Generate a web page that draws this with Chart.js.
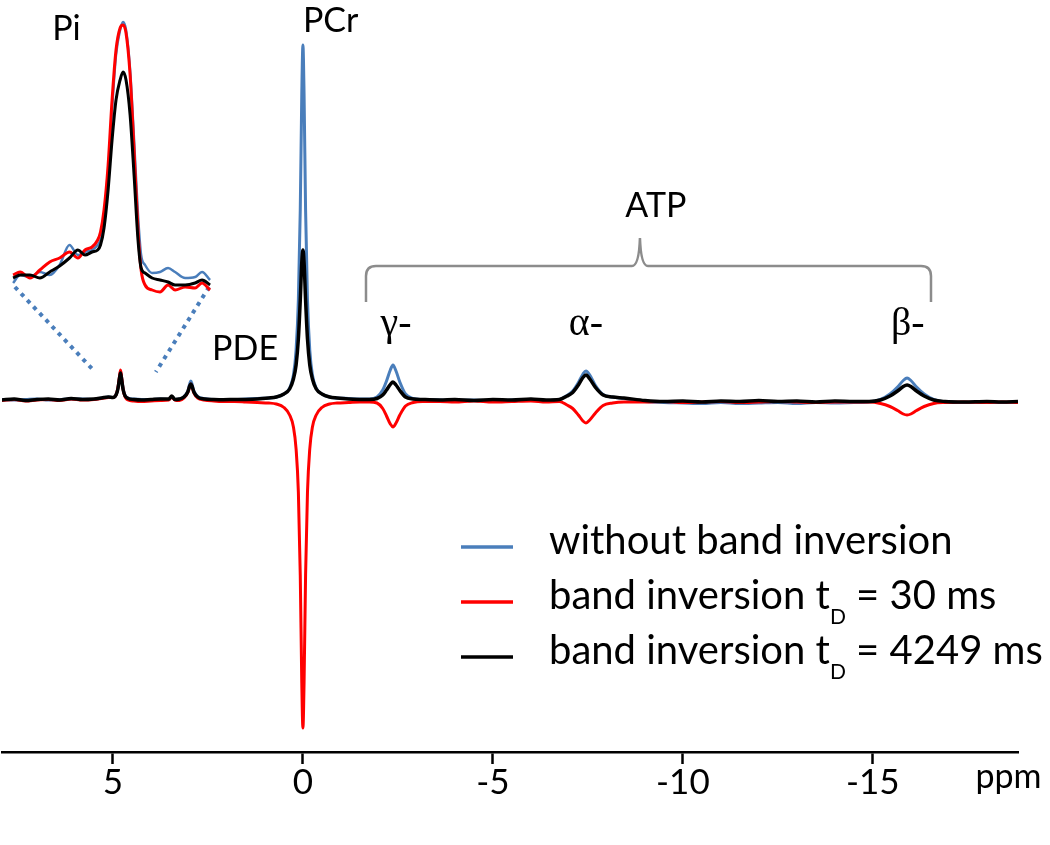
<!DOCTYPE html>
<html>
<head>
<meta charset="utf-8">
<script src="https://cdn.jsdelivr.net/npm/chart.js@4.4.1/dist/chart.umd.min.js"></script>
<style>
  body { margin: 0; background: #fff; }
  #wrap { position: relative; width: 1050px; height: 845px; }
  #main { position: absolute; left: 0; top: 0; }
  #inset { position: absolute; left: 8px; top: 0; }
</style>
</head>
<body>
<div id="wrap">
  <canvas id="main" width="1050" height="845"></canvas>
  <canvas id="inset" width="207" height="300"></canvas>
</div>
<script>
// chemical shift grid (ppm) shared by the three spectra
const mainPpm = [
  7.92, 7.6, 7.3, 7.0, 6.7, 6.4, 6.1, 5.8, 5.5, 5.3, 5.12,
  5.0, 4.92, 4.87, 4.83, 4.8, 4.77, 4.73, 4.68, 4.6, 4.45, 4.25,
  4.0, 3.75, 3.53, 3.45, 3.37, 3.25, 3.13, 3.03, 2.98, 2.95, 2.92, 2.87, 2.77, 2.6, 2.35,
  2.1, 1.8, 1.5, 1.2, 0.9, 0.7, 0.5, 0.35, 0.25, 0.18, 0.12, 0.07, 0.03, 0,
  -0.03, -0.07, -0.12, -0.18, -0.25, -0.35, -0.5, -0.7, -0.9, -1.2, -1.5, -1.75,
  -1.95, -2.1, -2.2, -2.3, -2.37, -2.45, -2.55, -2.7, -2.9, -3.15,
  -3.6, -4.0, -4.5, -5.0, -5.5, -6.0, -6.4, -6.75,
  -6.95, -7.1, -7.25, -7.37, -7.45, -7.55, -7.7, -7.9, -8.15, -8.45,
  -9.0, -9.5, -10.0, -10.5, -11.0, -11.5, -12.0, -12.5, -13.0, -13.5, -14.0, -14.5,
  -14.9, -15.2, -15.45, -15.65, -15.8, -15.9, -16.0, -16.15, -16.35, -16.6,
  -16.9, -17.4, -18.0, -18.4, -18.82
];

const blueMain = [
  0.5, 0, 0.5, 1, 0, 0.5, 1, 1, 0.5, 2, 3,
  2.5, 5, 11.5, 22, 29, 22, 11, 4.5, 2, 1, 0.5,
  0.5, 1, 0.5, 3, 0.5, 1, 3.5, 9, 16, 19, 16, 9, 3.5, 1.5, 0.5,
  0.5, 0.5, 1, 1.5, 2, 3, 6, 12, 25, 50, 100, 190, 306, 355,
  306, 190, 100, 50, 25, 12, 6, 3, 2, 1.5, 1, 1,
  3, 10, 19, 30, 35, 29, 18, 6, 1.5, 0.5,
  0, -0.5, 0, -1, 0, 0.5, -0.5, 0.5,
  4.5, 9, 17.5, 26, 29, 25, 14.5, 5.5, 3, 1.5,
  -1.5, -2.5, -3, -3.5, -2.5, -3.5, -3, -2.5, -3.5, -2.5, -3, -2.5,
  -2, 0.5, 6, 13, 19.5, 22, 19.5, 13, 6, 0.5,
  -2, -2.5, -2, -2.5, -2
];

const redMain = [
  -0.5, 0.5, -1, 0, 0.5, -0.5, 1, 0, 0.5, 1.5, 2.5,
  2.5, 5, 12, 23, 30, 22, 10, 3, 0, -1, -1.5,
  -1, -0.5, 0, 3, 0, -0.5, 2, 7.5, 13.5, 16, 13.5, 7, 2, 0, -1,
  -1.5, -1.5, -2, -2.5, -3, -4, -7.5, -15, -27, -49, -92, -175, -283, -328,
  -283, -175, -92, -49, -27, -15, -7.5, -4, -3, -2.5, -2, -2,
  -3, -8.5, -16, -24, -27, -23, -15, -6, -2.5, -1.5,
  -1.5, -2, -1, -2, -1.5, -1, -2, -1.5,
  -5, -8.5, -15, -21, -23, -20, -13, -5.5, -3, -2,
  -2, -1.5, -2.5, -2, -1.5, -2.5, -2, -1.5, -2, -2.5, -2, -2,
  -2, -3.5, -6.5, -10.5, -14, -15, -14, -10.5, -6.5, -3.5,
  -2.5, -2, -2.5, -2, -2.5
];

const blackMain = [
  0, 1, -0.5, 0.5, 1, 0, 1.5, 0.5, 1, 2, 3,
  2.5, 5, 11, 21, 27, 20, 10, 4, 1.5, 0.5, 0,
  0.5, 1, 1, 4, 0.5, 1, 3, 8, 14, 16, 14, 8, 3, 1, 0.5,
  0.3, 0.5, 0.6, 1, 2, 3, 6, 11, 21, 35, 61, 100, 138, 150,
  138, 100, 61, 35, 21, 11, 6, 3, 2, 1, 0.6, 0.5,
  1.5, 5, 10, 15.5, 18, 15, 9.5, 3, 1, 0.5,
  0, 0.5, -0.5, 0.5, 0, 1, 0, 0.5,
  4, 7.5, 15, 22.5, 25, 21, 12.5, 5, 3, 2,
  -0.5, -1.5, -1, -2, -1, -1.5, -0.5, -1.5, -1, -2, -1, -1.5,
  -1.5, 0, 4, 9, 13.5, 15, 13.5, 9, 4, 0,
  -1.5, -2, -1.5, -2, -1.5
];

// enlarged Pi region (inset)
const insetPpm = [
  5.58, 5.53, 5.46, 5.39, 5.32, 5.25, 5.18, 5.12, 5.07, 5.02, 4.98, 4.96, 4.935, 4.906, 4.878, 4.85,
  4.821, 4.80, 4.779, 4.75, 4.722, 4.694, 4.672, 4.644, 4.594, 4.538, 4.481, 4.431, 4.36, 4.289, 4.24, 4.183
];
const blueInset = [
  12, 20, 18, 23, 20, 30, 50, 40, 43, 45, 50, 55, 70, 115, 185, 240,
  265, 273, 265, 225, 155, 80, 40, 30, 22, 23, 27, 23, 17, 18, 23, 15
];
const redInset = [
  20, 23, 17, 25, 33, 37, 43, 37, 45, 48, 55, 63, 85, 130, 195, 245,
  267, 270, 262, 220, 145, 65, 25, 10, 5, 3, 10, 5, 8, 7, 12, 5
];
const blackInset = [
  17, 20, 20, 17, 23, 29, 37, 45, 40, 43, 45, 50, 67, 105, 155, 195,
  215, 223, 215, 180, 120, 55, 27, 22, 17, 15, 13, 10, 10, 12, 15, 10
];

const xTicks = [5, 0, -5, -10, -15];
const seriesColors = ['#4a7ebb', '#ff0000', '#000000'];
const legendTexts = [
  ['without band inversion', '', ''],
  ['band inversion t', 'D', ' = 30 ms'],
  ['band inversion t', 'D', ' = 4249 ms']
];

// peak labels: [text, ppm, intensity, align, font]
const peakLabels = [
  ['Pi', 6.6, 360, 'left', '34px Lato'],
  ['PCr', 0, 368, 'left', '34px Lato'],
  ['PDE', 2.39, 40, 'left', '34px Lato'],
  ['ATP', -9.29, 183, 'center', '34px Lato'],
  ['\u03b3-', -2.45, 65, 'center', '40px "Liberation Serif"'],
  ['\u03b1-', -7.45, 65, 'center', '40px "Liberation Serif"'],
  ['\u03b2-', -15.92, 65, 'center', '40px "Liberation Serif"']
];

Chart.defaults.font.family = 'Lato';
Chart.defaults.color = '#000';

function pairs(xs, ys) {
  return xs.map((x, i) => ({ x: x, y: ys[i] }));
}

function lineSet(data, color, width) {
  return {
    data: data,
    borderColor: color,
    borderWidth: width,
    pointRadius: 0,
    fill: false,
    cubicInterpolationMode: 'monotone'
  };
}

const annotations = {
  id: 'annotations',
  afterDraw(chart) {
    const c = chart.ctx;
    const x = chart.scales.x, y = chart.scales.y;
    c.save();

    // dotted guides from inset to Pi peak
    c.strokeStyle = '#4a7ebb';
    c.lineWidth = 4;
    c.setLineDash([4, 5]);
    c.beginPath();
    c.moveTo(x.getPixelForValue(7.58), y.getPixelForValue(113));
    c.lineTo(x.getPixelForValue(5.47), y.getPixelForValue(28));
    c.moveTo(x.getPixelForValue(2.47), y.getPixelForValue(113));
    c.lineTo(x.getPixelForValue(3.87), y.getPixelForValue(28));
    c.stroke();
    c.setLineDash([]);

    // ATP brace
    const xl = x.getPixelForValue(-1.66), xr = x.getPixelForValue(-16.53);
    const xc = x.getPixelForValue(-8.87);
    const yh = y.getPixelForValue(134), ye = y.getPixelForValue(98), yt = y.getPixelForValue(162);
    c.strokeStyle = '#8c8c8c';
    c.lineWidth = 2.5;
    c.beginPath();
    c.moveTo(xl, ye);
    c.lineTo(xl, yh + 10);
    c.quadraticCurveTo(xl, yh, xl + 10, yh);
    c.lineTo(xc - 8, yh);
    c.quadraticCurveTo(xc - 1, yh, xc, yt);
    c.quadraticCurveTo(xc + 1, yh, xc + 8, yh);
    c.lineTo(xr - 10, yh);
    c.quadraticCurveTo(xr, yh, xr, yh + 10);
    c.lineTo(xr, ye);
    c.stroke();

    // peak labels
    c.fillStyle = '#000';
    c.textBaseline = 'alphabetic';
    peakLabels.forEach(l => {
      c.font = l[4];
      c.textAlign = l[3];
      c.fillText(l[0], x.getPixelForValue(l[1]), y.getPixelForValue(l[2]));
    });

    // axis unit
    c.font = '34px Lato';
    c.textAlign = 'left';
    c.fillText('ppm', x.getPixelForValue(-17.7), chart.chartArea.bottom + 36);

    // legend
    legendTexts.forEach((t, i) => {
      const ly = 547 + i * 55;
      c.strokeStyle = seriesColors[i];
      c.lineWidth = 3.5;
      c.beginPath();
      c.moveTo(461, ly);
      c.lineTo(513, ly);
      c.stroke();
      let tx = 549;
      c.font = '40px Lato';
      c.fillText(t[0], tx, ly + 7);
      tx += c.measureText(t[0]).width;
      if (t[1]) {
        c.font = '21px Lato';
        c.fillText(t[1], tx, ly + 22);
        tx += c.measureText(t[1]).width;
        c.font = '40px Lato';
        c.fillText(t[2], tx, ly + 7);
      }
    });
    c.restore();
  }
};

new Chart(document.getElementById('main'), {
  type: 'line',
  data: {
    datasets: [
      lineSet(pairs(mainPpm, blackMain), seriesColors[2], 3.5),
      lineSet(pairs(mainPpm, redMain), seriesColors[1], 3),
      lineSet(pairs(mainPpm, blueMain), seriesColors[0], 3)
    ]
  },
  options: {
    responsive: false,
    animation: false,
    layout: { padding: { left: 2, right: 32, top: 0, bottom: 0 } },
    plugins: { legend: { display: false }, tooltip: { enabled: false } },
    scales: {
      x: {
        type: 'linear',
        reverse: true,
        min: -18.82,
        max: 7.92,
        afterBuildTicks: axis => { axis.ticks = xTicks.map(v => ({ value: v })); },
        afterFit: axis => { axis.height = 93; },
        ticks: { font: { size: 35 }, color: '#000', padding: -2, maxRotation: 0, callback: v => String(v) },
        grid: { drawOnChartArea: false, drawTicks: true, tickLength: 12, tickWidth: 2.5, tickColor: '#000' },
        border: { display: true, color: '#000', width: 2.5 }
      },
      y: { display: false, min: -352, max: 400 }
    }
  },
  plugins: [annotations]
});

new Chart(document.getElementById('inset'), {
  type: 'line',
  data: {
    datasets: [
      lineSet(pairs(insetPpm, blackInset), seriesColors[2], 3),
      lineSet(pairs(insetPpm, redInset), seriesColors[1], 3),
      lineSet(pairs(insetPpm, blueInset), seriesColors[0], 2.5)
    ]
  },
  options: {
    responsive: false,
    animation: false,
    layout: { padding: 0 },
    plugins: { legend: { display: false }, tooltip: { enabled: false } },
    scales: {
      x: { type: 'linear', display: false, reverse: true, min: 4.148, max: 5.616 },
      y: { display: false, min: -5, max: 295 }
    }
  }
});
</script>
</body>
</html>
